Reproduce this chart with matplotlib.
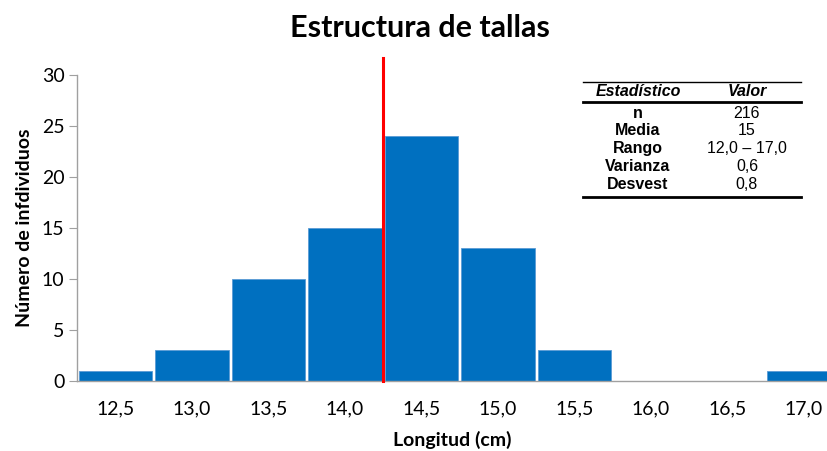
import matplotlib
matplotlib.use('Agg')
import matplotlib.pyplot as plt
from matplotlib.lines import Line2D

plt.rcParams['font.family'] = ['Lato', 'DejaVu Sans']

# Datos del histograma
longitud = [12.5, 13.0, 13.5, 14.0, 14.5, 15.0, 15.5, 16.0, 16.5, 17.0]
frecuencia = [1, 3, 10, 15, 24, 13, 3, 0, 0, 1]
etiquetas_x = ['12,5', '13,0', '13,5', '14,0', '14,5', '15,0', '15,5', '16,0', '16,5', '17,0']
linea_media = 14.25

# Tabla resumen
estadisticos = ['n', 'Media', 'Rango', 'Varianza', 'Desvest']
valores = ['216', '15', '12,0 – 17,0', '0,6', '0,8']

fig = plt.figure(figsize=(8.27, 4.51), dpi=100)
ax = fig.add_axes([0.0931, 0.1552, 0.9069, 0.6785])

ax.bar(longitud, frecuencia, width=0.48, color='#0070C0', edgecolor='#5b9bd5', linewidth=0.6, zorder=2)
ax.axvline(linea_media, ymin=0, ymax=31.7 / 30, color='#FF0000', linewidth=2.2, clip_on=False, zorder=3)

ax.set_xlim(12.25, 17.15)
ax.set_ylim(0, 30)
ax.set_xticks(longitud)
ax.set_xticklabels(etiquetas_x, fontsize=14)
ax.set_yticks(range(0, 31, 5))
ax.tick_params(axis='y', labelsize=14, length=6, color='#a0a0a0', pad=3)
ax.tick_params(axis='x', length=0, pad=14)
for lado in ['top', 'right']:
    ax.spines[lado].set_visible(False)
for lado in ['left', 'bottom']:
    ax.spines[lado].set_color('#a0a0a0')
    ax.spines[lado].set_linewidth(1.0)

ax.set_xlabel('Longitud (cm)', fontsize=14, fontweight='bold', labelpad=10)
ax.set_ylabel('Número de infdividuos', fontsize=14, fontweight='bold', labelpad=6)
fig.text(0.508, 0.938, 'Estructura de tallas', ha='center', va='center', fontsize=22, fontweight='bold')

# Tabla dibujada a mano
W, H = 827, 451
def fx(px):
    return px / W
def fy(py):
    return 1 - py / H

x0, x1 = 583, 801
c1, c2 = 638, 747
fig.add_artist(Line2D([fx(x0), fx(x1)], [fy(82), fy(82)], color='black', linewidth=1.0))
fig.add_artist(Line2D([fx(x0), fx(x1)], [fy(102), fy(102)], color='black', linewidth=2.0))
fig.add_artist(Line2D([fx(x0), fx(x1)], [fy(197), fy(197)], color='black', linewidth=2.0))
fig.text(fx(c1), fy(91), 'Estadístico', ha='center', va='center', fontsize=11.5,
         fontweight='bold', style='italic', family='Liberation Sans')
fig.text(fx(c2), fy(91), 'Valor', ha='center', va='center', fontsize=11.5,
         fontweight='bold', style='italic', family='Liberation Sans')
for i, (e, v) in enumerate(zip(estadisticos, valores)):
    y = 113 + i * 17.8
    fig.text(fx(c1), fy(y), e, ha='center', va='center', fontsize=11.5,
             fontweight='bold', family='Liberation Sans')
    fig.text(fx(c2), fy(y), v, ha='center', va='center', fontsize=11.5,
             family='Liberation Sans')

fig.savefig('out.png', dpi=100)
